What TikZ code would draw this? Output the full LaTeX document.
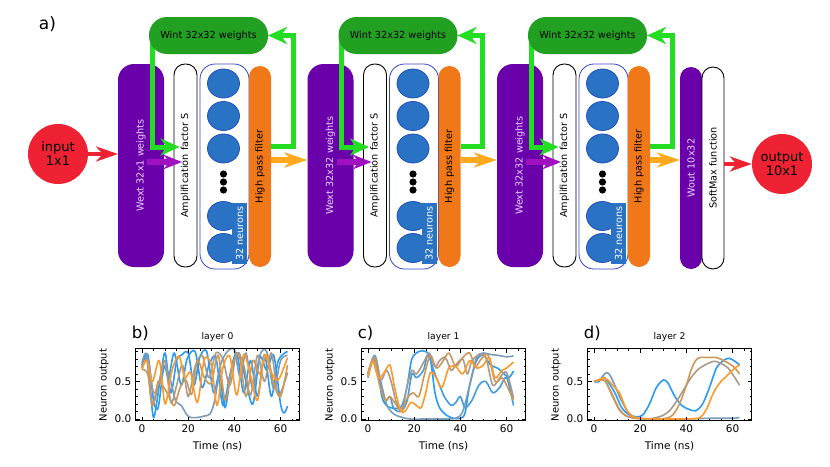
\documentclass[tikz,border=0pt]{standalone}
\usepackage{fontspec}
\setmainfont{DejaVu Sans}
\usepackage{graphicx}
\usetikzlibrary{arrows.meta,calc,shapes.geometric}

\definecolor{wextviolet}{HTML}{6A00AA}
\definecolor{wexttext}{HTML}{E6D6FF}
\definecolor{wintgreen}{HTML}{22A022}
\definecolor{fbgreen}{HTML}{22DD22}
\definecolor{hpforange}{HTML}{F07818}
\definecolor{fwdorange}{HTML}{FFAA1E}
\definecolor{fwdviolet}{HTML}{A010C0}
\definecolor{iored}{HTML}{EE2233}
\definecolor{cellblue}{HTML}{2A72C4}
\definecolor{cellrim}{HTML}{2250B8}
\definecolor{frameblue}{HTML}{3344CC}
\definecolor{trblue}{HTML}{2B9AF3}
\definecolor{trsteel}{HTML}{7A9CB8}
\definecolor{trgray}{HTML}{A89A8C}
\definecolor{trtan}{HTML}{CC9858}
\definecolor{trorange}{HTML}{FF9A2A}

\pgfdeclarelayer{front}
\pgfsetlayers{main,front}

\tikzset{
    boxtext/.style={font=\fontsize{9.7}{11}\selectfont, inner sep=0pt, outer sep=0pt},
    wext/.style={boxtext, fill=wextviolet, text=wexttext, rounded corners=16pt, minimum width=46pt, minimum height=203pt},
    ampbox/.style={boxtext, draw=black, line width=0.9pt, fill=white, rounded corners=11pt, minimum width=23pt, minimum height=203pt},
    cellframe/.style={draw=frameblue, line width=0.8pt, rounded corners=15pt, minimum width=49pt, minimum height=205pt, inner sep=0pt},
    cell/.style={ellipse, draw=cellrim, line width=0.8pt, fill=cellblue, minimum width=32pt, minimum height=29pt, inner sep=0pt},
    cellbadge/.style={boxtext, fill=cellblue, text=white, minimum width=15pt, minimum height=61pt},
    hpf/.style={boxtext, fill=hpforange, rounded corners=11pt, minimum width=22pt, minimum height=201pt},
    wint/.style={boxtext, fill=wintgreen, rounded corners=18pt, minimum width=119pt, minimum height=37pt},
    iocircle/.style={circle, fill=iored, minimum size=60pt, inner sep=0pt, align=center, font=\fontsize{13}{14}\selectfont},
    fbarrow/.style={draw=fbgreen, line width=5pt, -{Stealth[length=19pt, width=17pt, inset=6pt]}},
    fwdarrow/.style={draw=fwdorange, line width=6pt, -{Stealth[length=23pt, width=15pt, inset=7pt]}},
    wtarrow/.style={draw=fwdviolet, line width=6pt, -{Stealth[length=18pt, width=14pt, inset=5pt]}},
    ioarrow/.style={draw=iored, line width=4pt, -{Stealth[length=22pt, width=15pt, inset=7pt]}},
    panel/.style={shift={(#1,419)}, x=2.31pt, y=75pt},
    trace/.style={line width=1.6pt, line join=round},
    ticklabel/.style={font=\fontsize{10.5}{12}\selectfont, inner sep=1pt}
}

\begin{document}
\begin{tikzpicture}[x=1pt, y=-1pt]
    \useasboundingbox (0,0) rectangle (830,466);
    \node[font=\fontsize{17}{17}\selectfont] (tag-a) at (47.5,24) {a)};
    \node[iocircle] (input) at (58,154) {input\\1x1};
    \foreach \k/\wsize in {1/32x1, 2/32x32, 3/32x32} {
        \pgfmathsetmacro\dx{(\k-1)*189.5}
        \begin{scope}[xshift=\dx pt]
            \node[wext] (wext-\k) at (141,165.5) {\rotatebox{90}{Wext \wsize\ weights}};
            \node[ampbox] (amp-\k) at (185.5,165.5) {\rotatebox{90}{Amplification factor S}};
            \node[cellframe] (cells-\k) at (224.5,166.5) {};
            \foreach \j/\y in {1/83.5, 2/116, 3/148.5, 4/216, 5/248}
                \node[cell] (cell-\k-\j) at (223.5,\y) {};
            \foreach \y in {174,182,190}
                \fill (223.5,\y) circle (3.6pt);
            \node[cellbadge] (badge-\k) at (239.5,233.5) {\rotatebox{90}{32 neurons}};
            \node[hpf] (hpf-\k) at (260,166.5) {\rotatebox{90}{High pass filter}};
            \begin{pgfonlayer}{front}
                \node[wint] (wint-\k) at (208.5,35.5) {Wint 32x32 weights};
            \end{pgfonlayer}
        \end{scope}
        \draw[wtarrow] ($(wext-\k.east)+(-17,-3.5)$) -- ($(amp-\k.west)+(8,-3.5)$);
        \draw[fbarrow] ($(wint-\k.west)+(3,0)$) |- ($(amp-\k.west)+(5.5,-18.5)$);
        \draw[fbarrow] ($(hpf-\k.east)+(0,-20)$) -| ($(wint-\k.east)+(25,0)$) -- (wint-\k.east);
    }
    \node[wext, rounded corners=11pt, minimum width=22pt, minimum height=202pt] (wout) at (691,168) {\rotatebox{90}{Wout 10x32}};
    \node[ampbox, minimum width=22pt, minimum height=202pt] (softmax) at (713,168) {\rotatebox{90}{SoftMax function}};
    \node[iocircle] (output) at (782,164) {output\\10x1};
    \draw[ioarrow] (input) -- (input -| wext-1.west);
    \foreach \k/\next in {1/wext-2, 2/wext-3, 3/wout}
        \draw[fwdarrow] ($(hpf-\k.east)+(0,-6.5)$) -- ($(\next.west |- hpf-\k.east)+(0,-6.5)$);
    \draw[ioarrow] (softmax.east |- output) -- (output);

    \begin{scope}[panel=142]
        \draw[trace, trblue] plot[smooth] coordinates {(0,.72)(2,.82)(4.5,.1)(5.5,.06)(8,.55)(10,.88)(12.5,.35)(15,.78)(17,.85)(20,.88)(22.5,.45)(25,.82)(28,.9)(31,.35)(33.5,.6)(36,.15)(39,.72)(42,.88)(45,.5)(48,.2)(51,.82)(54,.65)(57,.85)(60,.2)(61.5,.08)(63,.17)};
        \draw[trace, trblue] plot[smooth] coordinates {(0,.68)(2.5,.86)(5,.25)(7,.15)(9.5,.7)(11.5,.55)(14,.88)(17,.45)(19.5,.8)(23,.9)(26,.42)(29,.72)(32,.82)(35,.18)(38,.58)(41,.88)(44,.35)(47,.78)(50,.3)(53,.86)(56,.3)(59,.78)(63,.9)};
        \draw[trace, trsteel] plot[smooth] coordinates {(0,.75)(2,.86)(4.5,.2)(7,.45)(9.5,.72)(12,.55)(14.5,.25)(17,.18)(19.5,.05)(21,.02)(24,.02)(27,.04)(29.5,.07)(31.5,.25)(34,.72)(37,.9)(40,.92)(42.5,.55)(45,.88)(48,.4)(51,.85)(54,.9)(57,.4)(60,.78)(63,.85)};
        \draw[trace, trgray] plot[smooth] coordinates {(0,.7)(2.5,.8)(5,.35)(7.5,.5)(10,.78)(12.5,.22)(15,.45)(17.5,.72)(20,.3)(23,.7)(26,.85)(29,.55)(32,.88)(35,.8)(38,.45)(41,.88)(44,.72)(47,.32)(50,.85)(53,.5)(56,.88)(59,.32)(63,.62)};
        \draw[trace, trtan] plot[smooth] coordinates {(0,.66)(2.5,.6)(4.5,.17)(7,.5)(9.5,.42)(12,.28)(14,.18)(16.5,.42)(19,.52)(21.5,.33)(24,.78)(27,.55)(30,.48)(33,.85)(36,.25)(39,.7)(42,.86)(45,.3)(48,.78)(51,.6)(54,.86)(57,.48)(60,.3)(63,.72)};
        \draw[trace, trorange] plot[smooth] coordinates {(0,.66)(2,.78)(4.5,.5)(7.5,.78)(10,.2)(13,.65)(16,.84)(18.5,.55)(21,.62)(24,.22)(27,.8)(30,.72)(32.5,.18)(35,.68)(38,.84)(41,.32)(44,.86)(47,.58)(50,.25)(53,.85)(56,.62)(59,.52)(63,.82)};
    \end{scope}
    \begin{scope}[panel=368]
        \draw[trace, trblue] plot[smooth] coordinates {(0,.55)(2,.78)(4,.7)(6,.3)(8,.18)(10,.15)(13,.14)(15,.2)(17,.45)(19,.8)(22,.9)(25,.9)(27,.8)(29,.35)(31,.15)(34,.05)(37,.01)(40,.01)(42,.08)(44,.45)(47,.78)(50,.85)(53,.72)(56,.68)(59,.6)(61,.55)(63,.64)};
        \draw[trace, trblue!70!trsteel] plot[smooth] coordinates {(0,.6)(2.5,.82)(5,.55)(7.5,.25)(9.5,.3)(11,.15)(13,.1)(15,.12)(17,.25)(19,.6)(21,.55)(24,.65)(26,.85)(29,.6)(31,.45)(33,.3)(36,.18)(38,.22)(40,.3)(42,.15)(45,.25)(48,.45)(51,.5)(54,.35)(57,.42)(60,.55)(63,.18)};
        \draw[trace, trsteel] plot[smooth] coordinates {(0,.62)(3,.85)(5.5,.5)(8,.2)(10,.1)(12,.05)(15,.02)(18,.0)(25,0)(32,0)(38,.01)(41,.1)(44,.45)(47,.82)(50,.88)(53,.86)(56,.85)(60,.83)(63,.84)};
        \draw[trace, trgray] plot[smooth] coordinates {(0,.6)(3,.82)(5.5,.52)(8,.65)(10,.5)(12.5,.2)(15,.15)(17,.45)(19,.65)(21,.6)(24,.75)(26.5,.88)(29,.7)(31,.78)(33.5,.82)(36,.65)(38,.72)(41,.8)(43,.6)(45,.78)(48,.85)(51,.82)(54,.45)(57,.55)(60,.62)(63,.28)};
        \draw[trace, trtan] plot[smooth] coordinates {(0,.58)(2.5,.8)(5,.45)(7.5,.25)(9.5,.3)(12,.2)(14.5,.1)(17,.28)(19.5,.35)(22,.3)(24.5,.6)(27,.85)(29.5,.68)(32,.75)(35,.88)(38,.7)(41,.82)(44,.88)(46.5,.7)(49,.8)(52,.85)(55,.5)(58,.55)(60,.45)(63,.25)};
        \draw[trace, trorange] plot[smooth] coordinates {(0,.56)(2,.77)(4.5,.55)(7,.62)(9.5,.72)(11.5,.42)(14,.12)(16,.1)(18.5,.22)(21,.18)(23,.15)(25,.35)(27,.62)(29.5,.55)(32,.42)(35,.68)(38,.7)(41,.6)(44,.78)(47,.68)(50,.72)(52.5,.82)(55,.55)(58,.65)(60,.68)(63,.76)};
    \end{scope}
    \begin{scope}[panel=594]
        \draw[trace, trsteel] plot[smooth] coordinates {(0,.5)(2,.5)(4,.58)(5.5,.62)(7,.58)(9,.45)(11,.3)(13,.18)(15,.08)(18,.02)(22,0)(30,0)(40,0)(50,.01)(60,.01)(63,.02)};
        \draw[trace, trblue] plot[smooth] coordinates {(0,.5)(2,.5)(4,.56)(6,.5)(9,.35)(12,.15)(15,.06)(18,.03)(21,.05)(24,.2)(27,.42)(30,.52)(32,.48)(35,.3)(38,.18)(41,.13)(44,.11)(47,.2)(50,.42)(53,.68)(56,.78)(58.5,.81)(61,.77)(63,.72)};
        \draw[trace, trgray] plot[smooth] coordinates {(0,.5)(3,.53)(5,.5)(8,.32)(11,.13)(14,.04)(18,.01)(23,0)(27,.02)(30,.05)(33,.12)(36,.25)(39,.4)(42,.55)(45,.66)(48,.72)(52,.77)(55,.74)(58,.68)(61,.55)(63,.45)};
        \draw[trace, trtan] plot[smooth] coordinates {(0,.5)(3,.52)(5,.5)(8,.3)(11,.12)(14,.04)(18,.01)(25,0)(31,.01)(34,.05)(37,.2)(40,.45)(42,.65)(44,.78)(46,.82)(50,.82)(53,.82)(56,.78)(59,.73)(61,.68)(63,.6)};
        \draw[trace, trorange] plot[smooth] coordinates {(0,.5)(2,.52)(4,.55)(6,.52)(9,.42)(11,.35)(13,.2)(15,.08)(18,.02)(25,0)(35,0)(40,0)(45,.01)(47,.05)(49,.15)(51,.3)(53,.42)(55,.5)(57,.56)(59,.62)(61,.68)(63,.72)};
    \end{scope}

    \foreach \px/\tag/\n in {142/b/0, 368/c/1, 594/d/2} {
        \begin{scope}[panel=\px]
            \draw[line width=0.9pt] (-2.8,-0.025) rectangle (68.2,0.935);
            \foreach \t in {0,20,40,60} {
                \draw[line width=0.7pt] (\t,-0.025) -- ++(0pt,4pt) (\t,0.935) -- ++(0pt,-4pt);
                \node[ticklabel, below=3pt] (tick-\n-\t) at (\t,-0.025) {\t};
            }
            \foreach \t in {5,10,...,65}
                \draw[line width=0.5pt] (\t,-0.025) -- ++(0pt,2pt) (\t,0.935) -- ++(0pt,-2pt);
            \foreach \v in {0,0.5}
                \draw[line width=0.7pt] (-2.8,\v) -- ++(4pt,0pt) (68.2,\v) -- ++(-4pt,0pt);
            \foreach \v in {0.1,0.2,...,0.9}
                \draw[line width=0.5pt] (-2.8,\v) -- ++(2pt,0pt) (68.2,\v) -- ++(-2pt,0pt);
            \node[ticklabel, left=3pt] (lo-\n) at (-2.8,0) {0.0};
            \node[ticklabel, left=3pt] (mid-\n) at (-2.8,0.5) {0.5};
            \node[font=\fontsize{10.5}{12}\selectfont] (time-\n) at (32.7,-0.36) {Time (ns)};
            \node[font=\fontsize{10}{12}\selectfont, rotate=90] (yl-\n) at (-16.4,0.453) {Neuron output};
            \node[font=\fontsize{9.2}{11}\selectfont] (title-\n) at (32.7,1.093) {layer \n};
            \node[font=\fontsize{16.5}{17}\selectfont, anchor=west, inner sep=0pt] (tag-\tag) at (-4.5,1.14) {\tag)};
        \end{scope}
    }
\end{tikzpicture}
\end{document}
